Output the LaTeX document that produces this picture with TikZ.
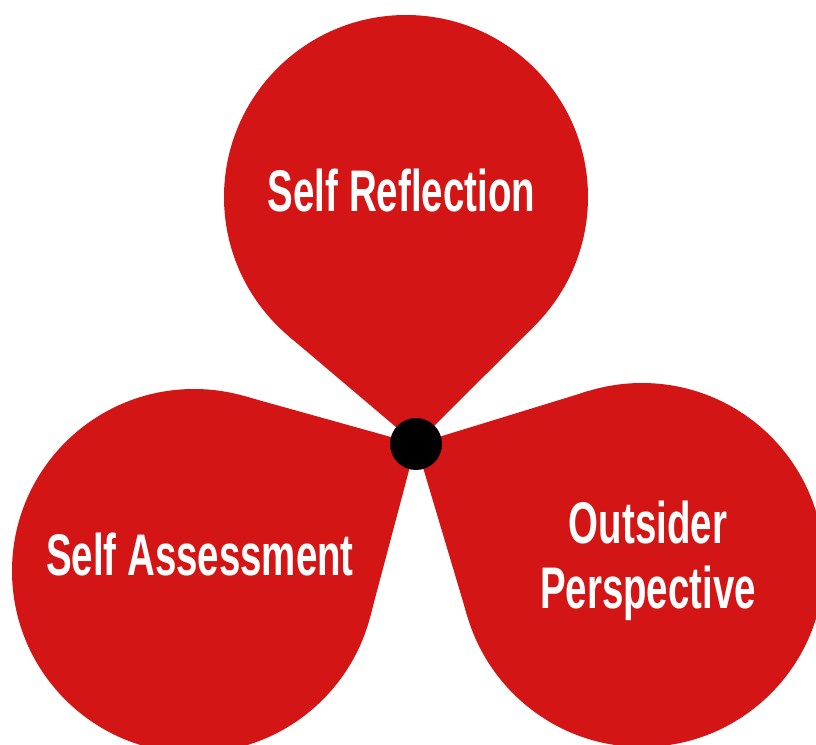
\documentclass[tikz,border=0pt]{standalone}
\usepackage{fontspec}
\newfontfamily\condfont{Liberation Sans}[FakeStretch=0.655]
\definecolor{petal}{RGB}{211,21,21}
\begin{document}
\begin{tikzpicture}[x=1pt,y=-1pt,
  petalfill/.style={fill=petal},
  label/.style={text=white,font=\condfont\bfseries\fontsize{58.7}{65}\selectfont,inner sep=0pt,anchor=base}]
\useasboundingbox (0,0) rectangle (816,744);
\clip (0,0) rectangle (816,744);
\coordinate (tip) at (416,444);
% top petal
\coordinate (ctop) at (406,197);
\fill[petalfill] (ctop) circle[radius=182pt];
\fill[petalfill] (tip) -- (534.5,325.9) -- (ctop) -- (288.4,335.9) -- cycle;
% bottom-left petal
\coordinate (cleft) at (194,571);
\fill[petalfill] (cleft) circle[radius=182pt];
\fill[petalfill] (tip) -- (242.9,395.7) -- (cleft) -- (369.9,617.7) -- cycle;
% bottom-right petal
\coordinate (cright) at (642,565);
\fill[petalfill] (cright) circle[radius=182pt];
\fill[petalfill] (tip) -- (467.6,617.0) -- (cright) -- (588.6,391.0) -- cycle;
% centre dot
\fill[black] (tip) circle[radius=26pt];
% labels
\node[label] (sr) at (401.5,211) {Self Reflection};
\node[label] (sa) at (200,575) {Self Assessment};
\node[label] (op1) at (648,543) {Outsider};
\node[label] (op2) at (648,608) {Perspective};
\end{tikzpicture}
\end{document}
